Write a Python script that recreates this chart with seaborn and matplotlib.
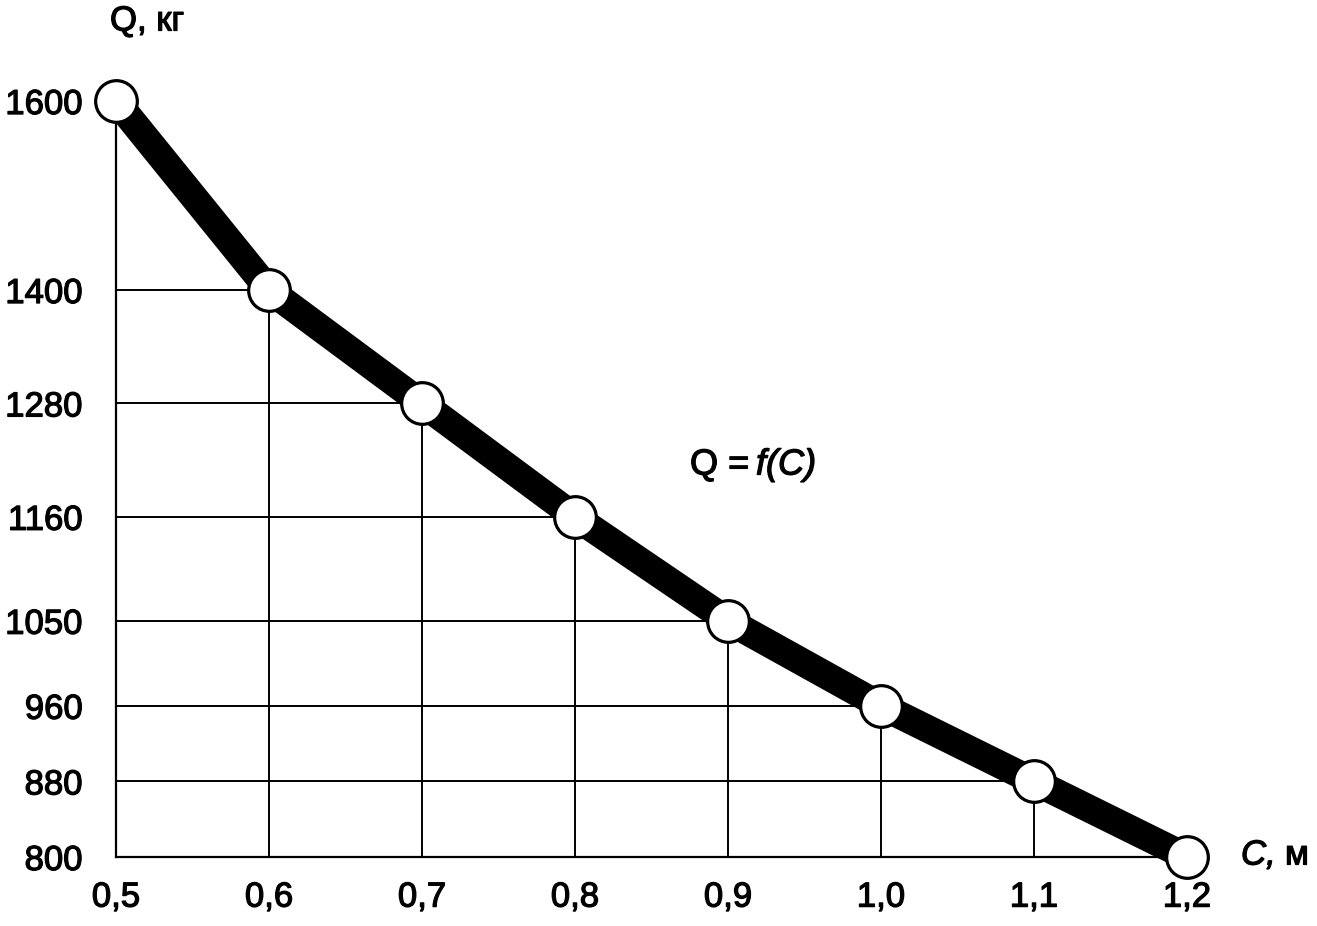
import matplotlib
matplotlib.use("Agg")
import matplotlib.pyplot as plt
import matplotlib.patheffects as pe
import seaborn as sns
import pandas as pd

# data
c_values = [0.5, 0.6, 0.7, 0.8, 0.9, 1.0, 1.1, 1.2]
q_values = [1600, 1400, 1280, 1160, 1050, 960, 880, 800]
x_tick_labels = ["0,5", "0,6", "0,7", "0,8", "0,9", "1,0", "1,1", "1,2"]
y_ticks = [800, 880, 960, 1050, 1160, 1280, 1400, 1600]

df = pd.DataFrame({"C": c_values, "Q": q_values})

sns.set_style("white")
plt.rcParams["font.family"] = ["Liberation Sans", "DejaVu Sans"]
plt.rcParams["text.color"] = "black"

# slightly heavier glyphs, like the reference rendering
heavy = [pe.withStroke(linewidth=0.9, foreground="black")]

fig = plt.figure(figsize=(13.17, 9.26), dpi=100)
ax = fig.add_axes([0.0881, 0.0745, 0.8132, 0.8164])

# drop lines from the axes to each point
ax.vlines(c_values, 800, q_values, color="black", lw=1.4, zorder=1)
ax.hlines(q_values, 0.5, c_values, color="black", lw=1.4, zorder=1)

sns.lineplot(data=df, x="C", y="Q", ax=ax, color="black", lw=20,
             marker="o", markersize=30, markerfacecolor="white",
             markeredgecolor="black", markeredgewidth=2.3, clip_on=False,
             zorder=3)

ax.set_xlim(0.5, 1.2)
ax.set_ylim(800, 1600)
ax.set_xticks(c_values)
ax.set_xticklabels(x_tick_labels)
ax.set_yticks(y_ticks)
ax.set_yticklabels([str(v) for v in y_ticks])
ax.tick_params(axis="both", length=0, labelsize=25, colors="black")
ax.tick_params(axis="y", pad=24)
ax.tick_params(axis="x", pad=17)
ax.set_xlabel("")
ax.set_ylabel("")
for lbl in ax.get_xticklabels() + ax.get_yticklabels():
    lbl.set_path_effects(heavy)

for side in ["top", "right"]:
    ax.spines[side].set_visible(False)
for side in ["left", "bottom"]:
    ax.spines[side].set_color("black")
    ax.spines[side].set_linewidth(1.6)
ax.spines["left"].set_zorder(0)

# axis captions and curve label
fig.text(110 / 1317, 1 - 21 / 926, "Q, кг", fontsize=25, ha="left",
         va="center", path_effects=heavy)
fig.text(1241 / 1317, 1 - 855 / 926, "C,", fontsize=25, ha="left",
         va="center", style="italic", path_effects=heavy)
fig.text(1285 / 1317, 1 - 855 / 926, "м", fontsize=25, ha="left",
         va="center", path_effects=heavy)
fig.text(690 / 1317, 1 - 465 / 926, "Q = ", fontsize=26, ha="left",
         va="center", path_effects=heavy)
fig.text(756 / 1317, 1 - 465 / 926, "f(C)", fontsize=26, ha="left",
         va="center", style="italic", path_effects=heavy)

fig.savefig("out.png", dpi=100)
